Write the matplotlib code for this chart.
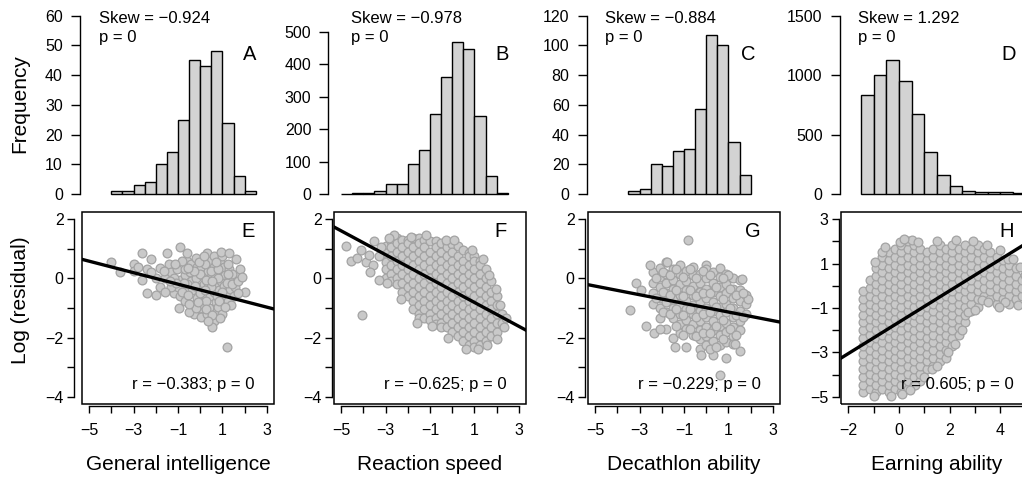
import matplotlib
matplotlib.use('Agg')
import matplotlib.pyplot as plt
from matplotlib.patches import Rectangle
import numpy as np

plt.rcParams['font.family'] = ['Liberation Sans', 'DejaVu Sans']

# ------- DATA ------- #
traits = ['General intelligence', 'Reaction speed', 'Decathlon ability', 'Earning ability']
hist_letters = ['A', 'B', 'C', 'D']
scat_letters = ['E', 'F', 'G', 'H']
skews = [-0.924, -0.978, -0.884, 1.292]
corrs = [-0.383, -0.625, -0.229, 0.605]

# histogram breaks and counts
a_breaks = [-4.0, -3.5, -3.0, -2.5, -2.0, -1.5, -1.0, -0.5, 0.0, 0.5, 1.0, 1.5, 2.0, 2.5]
a_counts = [1, 1, 3, 4, 10, 14, 25, 45, 43, 48, 24, 6, 1]
b_breaks = [-5.0, -4.5, -4.0, -3.5, -3.0, -2.5, -2.0, -1.5, -1.0, -0.5, 0.0, 0.5, 1.0, 1.5, 2.0, 2.5]
b_counts = [1, 3, 4, 9, 30, 32, 93, 137, 248, 360, 470, 447, 240, 55, 2]
c_breaks = [-3.5, -3.0, -2.5, -2.0, -1.5, -1.0, -0.5, 0.0, 0.5, 1.0, 1.5, 2.0]
c_counts = [2, 3, 20, 19, 29, 30, 57, 107, 100, 35, 13]
d_breaks = [-1.5, -1.0, -0.5, 0.0, 0.5, 1.0, 1.5, 2.0, 2.5, 3.0, 3.5, 4.0, 4.5, 5.0]
d_counts = [832, 1001, 1128, 953, 671, 352, 161, 68, 28, 17, 20, 20, 8]
hist_yticks = [[0, 10, 20, 30, 40, 50, 60], [0, 100, 200, 300, 400, 500],
               [0, 20, 40, 60, 80, 100, 120], [0, 500, 1000, 1500]]

# regression lines (intercept, slope)
fit_e = [-0.39, -0.194]
fit_f = [-0.41, -0.403]
fit_g = [-0.99, -0.146]
fit_h = [-1.64, 0.708]

# scatter points: general intelligence vs log residual
e_pts = [(-4.0, 0.55), (-3.6, 0.2), (-3.0, 0.5), (-3.0, 0.25), (-2.6, 0.85), (-2.6, -0.05),
         (-2.4, 0.3), (-2.2, 0.65), (-2.4, -0.5), (-2.0, -0.55), (-1.8, 0.35), (-1.5, 0.85),
         (-1.4, 0.5), (-1.8, -0.3), (-1.6, 0.0), (-1.3, 0.2), (-1.2, -0.5), (-0.9, 1.05),
         (-1.05, 0.3), (-0.9, -0.05), (-1.0, -0.3), (-0.9, -0.6), (-0.95, -1.0), (-0.7, -0.75),
         (-0.6, 0.6), (-0.7, 0.1), (-0.4, 0.5), (-0.45, 0.2), (-0.4, -0.1), (-0.35, -0.4),
         (-0.4, -0.9), (-0.3, -1.2), (-0.5, -1.15), (-0.15, 0.4), (-0.2, 0.0), (-0.1, -0.3),
         (-0.15, -0.65), (0.0, -1.0), (0.05, 0.35), (0.1, 0.1), (0.15, -0.2), (0.2, -0.55),
         (0.1, -0.85), (0.05, -1.3), (0.3, 0.85), (0.4, 0.6), (0.35, 0.25), (0.45, 0.0),
         (0.35, -0.3), (0.45, -0.6), (0.4, -1.0), (0.3, -1.2), (0.6, 0.75), (0.6, 0.4),
         (0.65, 0.1), (0.7, -0.2), (0.6, -0.45), (0.7, -0.8), (0.75, -1.1), (0.6, -1.45),
         (0.55, -1.65), (0.9, 0.55), (0.9, 0.25), (0.95, -0.1), (0.85, -0.4), (0.95, -0.65),
         (0.8, -0.95), (1.05, 0.4), (1.1, 0.1), (1.05, -0.25), (1.15, -0.5), (1.0, -1.2),
         (1.3, 0.3), (1.3, 0.0), (1.35, -0.35), (1.25, -0.75), (1.2, -2.3), (1.6, 0.65),
         (1.6, 0.1), (1.55, -0.3), (1.5, -0.6), (1.4, -0.9), (2.0, -0.45), (-0.6, -0.2),
         (-0.7, 0.3), (-1.2, 0.0), (-0.2, 0.7), (0.2, 0.5), (0.0, -0.5), (0.5, -0.3),
         (0.8, 0.0), (1.0, 0.75), (-2.0, 0.0), (-1.3, -0.3), (-0.8, 0.6), (-0.2, -1.0),
         (0.25, -0.75), (-1.6, -0.45), (-2.2, 0.2),
         (-0.8, -0.45), (-0.55, -0.55), (-0.25, -0.25), (0.0, 0.15), (0.25, -0.05), (0.2, -0.4),
         (0.55, -0.1), (0.5, 0.25), (0.8, 0.3), (0.75, -0.6), (1.0, -0.45), (1.2, -0.15),
         (1.25, 0.5), (1.45, 0.15), (1.45, -0.2), (1.7, -0.1), (1.8, 0.3), (-0.3, 0.25),
         (-0.55, 0.35), (-0.75, -0.15), (-1.1, -0.15), (-1.35, -0.1), (-1.15, 0.5), (-0.5, -0.85),
         (-0.1, -0.8), (0.25, -1.05), (0.55, -1.25), (0.9, -1.35), (0.35, -1.45), (0.85, -0.75),
         (1.1, -0.95), (1.25, 0.15), (-0.05, 0.55), (0.15, 0.75), (0.7, 0.55), (1.9, 0.05),
         (1.7, -0.5), (-2.8, 0.4), (-1.65, 0.25), (0.95, 0.9), (1.3, 0.85), (-0.6, 0.85)]

# reaction speed: columns of points (x, [y, ...]) plus the sparse tail
f_cols = [
    (-3.00, [1.10, 0.85, 0.55, 0.30, 0.00]),
    (-2.75, [1.25, 1.05, 0.75, 0.45, 0.15, -0.10]),
    (-2.50, [1.35, 1.20, 0.90, 0.60, 0.30, 0.00, -0.20]),
    (-2.25, [1.30, 1.05, 0.75, 0.45, 0.15, -0.15, -0.45]),
    (-2.00, [1.30, 1.20, 0.90, 0.60, 0.30, 0.00, -0.30, -0.60]),
    (-1.75, [1.35, 1.05, 0.75, 0.45, 0.15, -0.15, -0.45, -0.75, -1.05]),
    (-1.50, [1.35, 1.20, 0.90, 0.60, 0.30, 0.00, -0.30, -0.60, -0.90, -1.20, -1.35]),
    (-1.25, [1.30, 1.05, 0.75, 0.45, 0.15, -0.15, -0.45, -0.75, -1.05, -1.35]),
    (-1.00, [1.25, 0.90, 0.60, 0.30, 0.00, -0.30, -0.60, -0.90, -1.20, -1.40]),
    (-0.75, [1.25, 1.05, 0.75, 0.45, 0.15, -0.15, -0.45, -0.75, -1.05, -1.35, -1.55]),
    (-0.50, [1.20, 0.90, 0.60, 0.30, 0.00, -0.30, -0.60, -0.90, -1.20, -1.50, -1.65]),
    (-0.25, [1.20, 1.05, 0.75, 0.45, 0.15, -0.15, -0.45, -0.75, -1.05, -1.35, -1.65]),
    (0.00, [1.15, 0.90, 0.60, 0.30, 0.00, -0.30, -0.60, -0.90, -1.20, -1.50, -1.80]),
    (0.25, [1.10, 0.75, 0.45, 0.15, -0.15, -0.45, -0.75, -1.05, -1.35, -1.65, -1.95]),
    (0.50, [0.95, 0.60, 0.30, 0.00, -0.30, -0.60, -0.90, -1.20, -1.50, -1.80, -2.10]),
    (0.75, [0.85, 0.75, 0.45, 0.15, -0.15, -0.45, -0.75, -1.05, -1.35, -1.65, -1.95, -2.25]),
    (1.00, [0.75, 0.60, 0.30, 0.00, -0.30, -0.60, -0.90, -1.20, -1.50, -1.80, -2.10, -2.30]),
    (1.25, [0.60, 0.45, 0.15, -0.15, -0.45, -0.75, -1.05, -1.35, -1.65, -1.95, -2.25]),
    (1.50, [0.30, 0.00, -0.30, -0.60, -0.90, -1.20, -1.50, -1.80, -2.10]),
    (1.75, [-0.10, -0.45, -0.75, -1.05, -1.35, -1.65, -1.95]),
    (2.00, [-0.60, -0.90, -1.20, -1.50, -1.80]),
    (2.25, [-1.20, -1.50]),
]
f_extra = [(-4.80, 1.10), (-4.55, 0.60), (-4.30, 0.70), (-4.10, 0.95), (-3.90, 0.55),
           (-3.75, 0.80), (-3.55, 0.45), (-3.50, 1.25), (-3.30, 0.75), (-3.30, -0.05),
           (-3.20, 1.05), (-4.05, -1.25), (2.35, -1.65), (-0.30, 1.30), (-1.85, 1.40),
           (-2.95, -0.15), (1.55, -2.25), (1.15, -2.40),
           (-2.6, 1.45), (-1.2, 1.45), (0.1, 1.3), (0.9, 0.95), (1.4, 0.65), (1.65, 0.1),
           (1.95, -0.35), (2.15, -0.9), (2.4, -1.35), (2.0, -2.05), (0.6, -2.4), (-0.2, -2.0),
           (-0.9, -1.6), (-1.6, -1.5), (-2.3, -0.7), (-3.7, 0.2), (-2.85, 1.35)]

# decathlon ability
g_cols = [
    (-2.40, [0.20, -0.15, -0.50, -0.85]),
    (-2.10, [0.35, 0.05, -0.30, -0.65, -1.00, -1.35]),
    (-1.80, [0.55, 0.15, -0.15, -0.50, -0.80, -1.15, -1.70]),
    (-1.50, [0.30, -0.05, -0.35, -0.70, -1.00, -1.35, -2.00]),
    (-1.20, [0.45, 0.15, -0.20, -0.55, -0.85, -1.20, -1.55, -1.85]),
    (-0.90, [0.25, -0.10, -0.40, -0.75, -1.05, -1.40, -1.70, -2.30]),
    (-0.60, [0.40, 0.10, -0.25, -0.55, -0.90, -1.20, -1.55, -1.90]),
    (-0.30, [0.15, -0.15, -0.45, -0.80, -1.10, -1.45, -1.75, -2.05, -2.40]),
    (0.00, [0.45, 0.30, 0.00, -0.35, -0.65, -1.00, -1.30, -1.65, -1.95, -2.25]),
    (0.30, [0.20, -0.15, -0.45, -0.80, -1.10, -1.45, -1.75, -2.10, -2.60]),
    (0.60, [0.35, 0.05, -0.30, -0.60, -0.95, -1.25, -1.60, -1.90, -2.25, -3.25]),
    (0.90, [0.15, -0.20, -0.50, -0.85, -1.15, -1.50, -1.80, -2.15, -2.70]),
    (1.20, [0.00, -0.35, -0.65, -1.00, -1.30, -1.65, -1.95, -2.20]),
    (1.50, [-0.05, -0.40, -0.75, -1.10, -1.45, -1.75, -2.45]),
    (1.80, [-0.55, -0.85, -1.20]),
]
g_extra = [(-0.82, 1.28), (-2.55, 0.46), (-1.75, 0.55), (-3.15, -0.14), (-2.92, -0.40),
           (-3.45, -1.06), (-2.70, -1.61), (-2.37, -1.83), (-1.40, -2.32), (-0.22, -2.57),
           (1.62, -0.03), (1.90, -0.70), (-2.10, -1.72), (0.98, 0.10), (1.28, -2.20),
           (-2.25, 0.0), (-2.25, -0.65), (-1.95, 0.2), (-1.95, -0.45), (-1.95, -1.15),
           (-1.65, 0.1), (-1.65, -0.55), (-1.65, -1.2), (-1.35, 0.3), (-1.35, -0.4),
           (-1.35, -1.05), (-1.35, -1.6), (-1.05, 0.05), (-1.05, -0.6), (-1.05, -1.25),
           (-1.05, -1.9), (-0.75, 0.3), (-0.75, -0.4), (-0.75, -1.05), (-0.75, -1.7),
           (-0.45, 0.0), (-0.45, -0.6), (-0.45, -1.3), (-0.45, -1.95), (-0.15, 0.25),
           (-0.15, -0.5), (-0.15, -1.2), (-0.15, -1.85), (0.15, 0.1), (0.15, -0.5),
           (0.15, -1.15), (0.15, -1.85), (0.15, -2.4), (0.45, -0.3), (0.45, -0.95),
           (0.45, -1.6), (0.45, -2.3), (0.75, 0.0), (0.75, -0.7), (0.75, -1.4),
           (0.75, -2.05), (1.05, -0.35), (1.05, -1.0), (1.05, -1.7), (1.35, -0.55),
           (1.35, -1.25), (1.35, -1.9), (1.65, -0.5), (1.65, -1.3)]

# earning ability
h_cols = [
    (-1.40, [-4.8, -4.45, -4.1, -3.75, -3.4, -3.05, -2.7, -2.35, -2.0, -1.65, -1.3, -0.95, -0.6, -0.25]),
    (-1.15, [-4.65, -4.3, -3.95, -3.6, -3.25, -2.9, -2.55, -2.2, -1.85, -1.5, -1.15, -0.8, -0.45, -0.1, 0.25]),
    (-0.90, [-4.8, -4.45, -4.1, -3.75, -3.4, -3.05, -2.7, -2.35, -2.0, -1.65, -1.3, -0.95, -0.6, -0.25, 0.1, 0.45, 0.8]),
    (-0.65, [-4.65, -4.3, -3.95, -3.6, -3.25, -2.9, -2.55, -2.2, -1.85, -1.5, -1.15, -0.8, -0.45, -0.1, 0.25, 0.6, 0.95, 1.3]),
    (-0.40, [-4.8, -4.45, -4.1, -3.75, -3.4, -3.05, -2.7, -2.35, -2.0, -1.65, -1.3, -0.95, -0.6, -0.25, 0.1, 0.45, 0.8, 1.15, 1.5]),
    (-0.15, [-4.65, -4.3, -3.95, -3.6, -3.25, -2.9, -2.55, -2.2, -1.85, -1.5, -1.15, -0.8, -0.45, -0.1, 0.25, 0.6, 0.95, 1.3, 1.65]),
    (0.10, [-4.8, -4.45, -4.1, -3.75, -3.4, -3.05, -2.7, -2.35, -2.0, -1.65, -1.3, -0.95, -0.6, -0.25, 0.1, 0.45, 0.8, 1.15, 1.5, 1.85]),
    (0.35, [-4.65, -4.3, -3.95, -3.6, -3.25, -2.9, -2.55, -2.2, -1.85, -1.5, -1.15, -0.8, -0.45, -0.1, 0.25, 0.6, 0.95, 1.3, 1.65, 2.0]),
    (0.60, [-4.45, -4.1, -3.75, -3.4, -3.05, -2.7, -2.35, -2.0, -1.65, -1.3, -0.95, -0.6, -0.25, 0.1, 0.45, 0.8, 1.15, 1.5, 1.85]),
    (0.85, [-4.3, -3.95, -3.6, -3.25, -2.9, -2.55, -2.2, -1.85, -1.5, -1.15, -0.8, -0.45, -0.1, 0.25, 0.6, 0.95, 1.3, 1.65]),
    (1.10, [-3.75, -3.4, -3.05, -2.7, -2.35, -2.0, -1.65, -1.3, -0.95, -0.6, -0.25, 0.1, 0.45, 0.8, 1.15, 1.5]),
    (1.35, [-3.6, -3.25, -2.9, -2.55, -2.2, -1.85, -1.5, -1.15, -0.8, -0.45, -0.1, 0.25, 0.6, 0.95, 1.3, 1.65]),
    (1.60, [-3.4, -3.05, -2.7, -2.35, -2.0, -1.65, -1.3, -0.95, -0.6, -0.25, 0.1, 0.45, 0.8, 1.15, 1.5, 1.85]),
    (1.85, [-3.25, -2.9, -2.55, -2.2, -1.85, -1.5, -1.15, -0.8, -0.45, -0.1, 0.25, 0.6, 0.95, 1.3, 1.65]),
    (2.10, [-2.7, -2.35, -2.0, -1.65, -1.3, -0.95, -0.6, -0.25, 0.1, 0.45, 0.8, 1.15, 1.5, 1.85]),
    (2.35, [-2.2, -1.85, -1.5, -1.15, -0.8, -0.45, -0.1, 0.25, 0.6, 0.95, 1.3, 1.65]),
    (2.60, [-1.65, -1.3, -0.95, -0.6, -0.25, 0.1, 0.45, 0.8, 1.15, 1.5, 1.85]),
    (2.85, [-1.15, -0.8, -0.45, -0.1, 0.25, 0.6, 0.95, 1.3, 1.65]),
    (3.10, [-0.95, -0.6, -0.25, 0.1, 0.45, 0.8, 1.15, 1.5, 1.85]),
    (3.35, [-0.45, -0.1, 0.25, 0.6, 0.95, 1.3, 1.65]),
    (3.60, [-0.6, -0.25, 0.1, 0.45, 0.8, 1.15, 1.5]),
    (3.85, [-0.8, -0.45, -0.1, 0.25, 0.6, 0.95, 1.3]),
    (4.10, [-0.6, -0.25, 0.1, 0.45, 0.8, 1.15]),
    (4.35, [-0.8, -0.45, -0.1, 0.25, 0.6, 0.95]),
    (4.60, [-0.6, -0.25, 0.1, 0.45, 0.8]),
    (4.85, [-0.45, -0.1, 0.25]),
]
h_extra = [(-0.68, 1.52), (0.05, 1.97), (0.51, 2.05), (3.26, -0.65), (4.31, 1.22),
           (1.29, -3.73), (0.64, -4.48), (0.11, -4.85), (2.74, -1.18), (4.18, -0.73),
           (-0.95, 1.05), (-0.55, 1.75), (0.2, 2.1), (0.75, 1.95), (1.5, 2.0), (2.25, 2.05),
           (2.9, 2.0), (3.45, 1.85), (4.0, 1.6), (4.5, 1.2), (4.75, 0.85), (4.95, 0.5),
           (4.7, -0.85), (3.95, -0.95), (3.5, -0.75), (3.0, -1.1), (2.5, -2.0), (2.2, -2.6),
           (1.95, -3.0), (1.5, -3.6), (1.0, -4.1), (0.45, -4.7), (-0.3, -4.95), (-1.0, -4.95)]

# ------- HELPERS ------- #
W, H = 1022, 479
fill_col, edge_col = '#c9c9c9', '#a3a3a3'


def flatten(cols, extra):
    xs = [x for x, ys in cols for _ in ys] + [p[0] for p in extra]
    ys = [y for _, ys in cols for y in ys] + [p[1] for p in extra]
    return xs, ys


def minus(v):
    return f'{v:g}'.replace('-', '\u2212')


def px_axes(fig, left, top, width, height):
    return fig.add_axes([left / W, 1 - (top + height) / H, width / W, height / H])


# ------- PLOT ------- #
fig = plt.figure(figsize=(W / 100, H / 100), dpi=100)
fig.set_facecolor('white')

lefts = [82, 334, 588, 841]
y_offsets_top = [1.5, 4.0, 1.0, 1.0]
y_offsets_bot = [5.8, 1.5, 2.2, 1.5]
xlims = [(-5.32, 3.32), (-5.32, 3.32), (-5.32, 3.32), (-2.28, 5.28)]
hist_ylims = [(-2.4, 62.4), (-22, 572), (-4.8, 124.8), (-60, 1560)]
breaks = [a_breaks, b_breaks, c_breaks, d_breaks]
counts = [a_counts, b_counts, c_counts, d_counts]
fits = [fit_e, fit_f, fit_g, fit_h]
scatters = [([p[0] for p in e_pts], [p[1] for p in e_pts]),
            flatten(f_cols, f_extra), flatten(g_cols, g_extra), flatten(h_cols, h_extra)]
letter_x_top = [0.91, 0.91, 0.87, 0.91]

for i in range(4):
    # histogram
    ax = px_axes(fig, lefts[i], 8.7, 192, 192.3)
    br = breaks[i]
    ax.bar(br[:-1], counts[i], width=np.diff(br), align='edge',
           color='#d3d3d3', edgecolor='black', lw=1.0)
    ax.set_xlim(*xlims[i])
    ax.set_ylim(*hist_ylims[i])
    for sp in ['top', 'right', 'bottom']:
        ax.spines[sp].set_visible(False)
    ax.spines['left'].set_position(('outward', y_offsets_top[i]))
    ax.spines['left'].set_bounds(hist_yticks[i][0], hist_yticks[i][-1])
    ax.spines['left'].set_linewidth(1.0)
    ax.set_yticks(hist_yticks[i])
    ax.set_xticks([])
    ax.tick_params(axis='y', direction='out', length=6.3, width=1.0,
                   labelsize=11.5, pad=6)
    ax.text(0.09, 0.924, 'Skew = ' + f'{skews[i]:.3f}'.replace('-', '\u2212'),
            transform=ax.transAxes, ha='left', va='baseline', fontsize=12)
    ax.text(0.09, 0.825, 'p = 0', transform=ax.transAxes,
            ha='left', va='baseline', fontsize=12)
    ax.text(letter_x_top[i], 0.733, hist_letters[i], transform=ax.transAxes,
            ha='right', va='baseline', fontsize=14.5)

    # scatter with regression line
    ax = px_axes(fig, lefts[i], 212, 192, 192)
    sx, sy = scatters[i]
    ax.scatter(sx, sy, s=40, facecolor=fill_col, edgecolor=edge_col,
               lw=0.9, zorder=2)
    xs = np.array(xlims[i])
    ax.plot(xs, fits[i][0] + fits[i][1] * xs, color='black', lw=2.4, zorder=3)
    ax.set_xlim(*xlims[i])
    if i < 3:
        ax.set_ylim(-4.24, 2.24)
        yt = list(range(-4, 3))
        yl = [minus(v) if v % 2 == 0 else '' for v in yt]
        xt = list(range(-5, 4))
        xl = [minus(v) if v % 2 != 0 else '' for v in xt]
    else:
        ax.set_ylim(-5.32, 3.32)
        yt = list(range(-5, 4))
        yl = [minus(v) if v % 2 != 0 else '' for v in yt]
        xt = list(range(-2, 6))
        xl = [minus(v) if v % 2 == 0 else '' for v in xt]
    ax.set_yticks(yt)
    ax.set_yticklabels(yl)
    ax.set_xticks(xt)
    ax.set_xticklabels(xl)
    for sp in ['top', 'right']:
        ax.spines[sp].set_visible(False)
    ax.spines['left'].set_position(('outward', y_offsets_bot[i]))
    ax.spines['left'].set_bounds(yt[0], yt[-1])
    ax.spines['bottom'].set_position(('outward', 1.5))
    ax.spines['bottom'].set_bounds(xt[0], xt[-1])
    for sp in ['left', 'bottom']:
        ax.spines[sp].set_linewidth(1.0)
    ax.add_patch(Rectangle((0, 0), 1, 1, transform=ax.transAxes, fill=False,
                           edgecolor='black', lw=1.1, clip_on=False, zorder=4))
    ax.tick_params(axis='both', direction='out', length=5.0, width=1.0,
                   labelsize=11.5)
    ax.tick_params(axis='y', pad=2.5)
    ax.tick_params(axis='x', pad=7.5)
    ax.text(0.90, 0.87, scat_letters[i], transform=ax.transAxes,
            ha='right', va='baseline', fontsize=14.5, zorder=5)
    ax.text(0.90, 0.076, 'r = ' + f'{corrs[i]:.3f}'.replace('-', '\u2212') + '; p = 0',
            transform=ax.transAxes, ha='right', va='baseline', fontsize=12, zorder=5)

    # x label
    fig.text((lefts[i] + 96) / W, 1 - 470 / H, traits[i],
             ha='center', va='baseline', fontsize=15)

fig.text(20 / W, 1 - 104 / H, 'Frequency', rotation=90,
         ha='center', va='center', fontsize=15)
fig.text(21 / W, 1 - 300 / H, 'Log (residual)', rotation=90,
         ha='center', va='center', fontsize=15)

fig.savefig('out.png', dpi=100, facecolor='white')
